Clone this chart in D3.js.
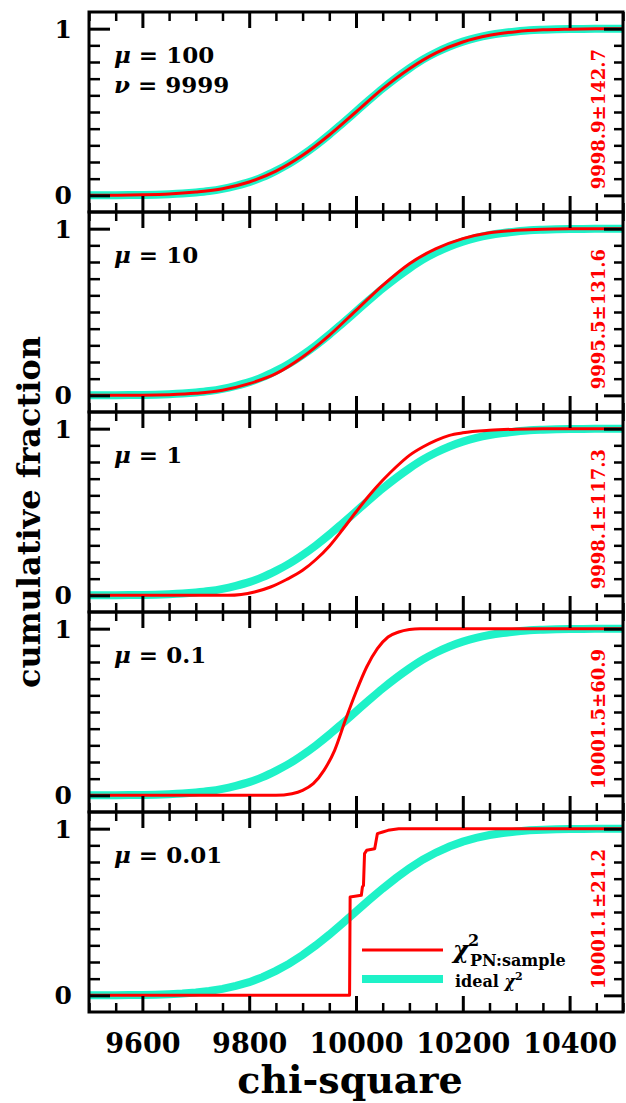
<!DOCTYPE html>
<html><head><meta charset="utf-8">
<script src="https://cdn.jsdelivr.net/npm/d3@7"></script>
<style>body{margin:0;background:#fff}svg text{font-family:"DejaVu Serif",serif;font-weight:bold}</style>
</head><body>
<svg id="c" width="626" height="1103"></svg>
<script>
// ---- data ----
const xTickLabels = [9600, 9800, 10000, 10200, 10400];
const yTickLabels = [0, 1];
const panelMu = ["100", "10", "1", "0.1", "0.01"];
const panelStats = ["9998.9±142.7", "9995.5±131.6", "9998.1±117.3", "10001.5±60.9", "10001.1±21.2"];

// ideal chi-square CDF (nu = 9999)
const idealX = [9500,9525,9550,9575,9600,9625,9650,9675,9700,9725,9750,9775,9800,9825,9850,9875,9900,9925,9950,9975,10000,10025,10050,10075,10100,10125,10150,10175,10200,10225,10250,10275,10300,10325,10350,10375,10400,10425,10450,10475,10500];
const idealY = [0.0002,0.0004,0.0007,0.0013,0.0024,0.004,0.0068,0.011,0.0174,0.026,0.039,0.057,0.079,0.109,0.147,0.19,0.242,0.3,0.364,0.433,0.503,0.573,0.641,0.704,0.762,0.814,0.857,0.893,0.922,0.945,0.962,0.974,0.983,0.99,0.9935,0.996,0.9977,0.9987,0.9993,0.9996,0.9998];

// sample CDFs, one per panel
const sampleMu100 = [[9500,0.0003],[9550,0.001],[9600,0.003],[9650,0.008],[9700,0.02],[9750,0.04],[9800,0.08],[9850,0.145],[9900,0.24],[9950,0.362],[10000,0.5],[10050,0.64],[10100,0.76],[10150,0.855],[10200,0.92],[10250,0.96],[10300,0.982],[10350,0.993],[10400,0.997],[10450,0.999],[10500,1]];
const sampleMu10 = [[9500,0.0001],[9600,0.001],[9650,0.004],[9700,0.012],[9750,0.03],[9800,0.07],[9850,0.13],[9900,0.23],[9950,0.36],[10000,0.51],[10050,0.66],[10100,0.79],[10150,0.88],[10200,0.94],[10250,0.975],[10300,0.99],[10350,0.997],[10400,0.999],[10500,1]];
const sampleMu1 = [[9500,0],[9760,0],[9785,0.005],[9810,0.02],[9840,0.05],[9870,0.095],[9900,0.15],[9925,0.215],[9950,0.295],[9975,0.395],[10000,0.5],[10025,0.6],[10050,0.69],[10075,0.77],[10100,0.84],[10125,0.89],[10150,0.93],[10175,0.96],[10200,0.975],[10250,0.99],[10300,0.997],[10350,1],[10500,1]];
const sampleMu01 = [[9500,0],[9850,0],[9880,0.01],[9900,0.03],[9920,0.07],[9940,0.15],[9960,0.27],[9980,0.45],[10000,0.62],[10020,0.77],[10040,0.88],[10060,0.95],[10080,0.98],[10100,0.995],[10120,1],[10500,1]];
const sampleMu001 = [[9500,0],[9988,0],[9989,0.59],[10010,0.6],[10012,0.65],[10014,0.66],[10016,0.85],[10020,0.87],[10035,0.88],[10040,0.97],[10050,0.98],[10060,0.99],[10080,1],[10500,1]];
const samples = [sampleMu100, sampleMu10, sampleMu1, sampleMu01, sampleMu001];

// ---- layout ----
const svg = d3.select("#c");
const L = 89, R = 623, T = 12, PH = 200, NP = 5;
const RED = "#ff0000", CYAN = "#1ef2c8";
const x = d3.scaleLinear().domain([9500, 10500]).range([L, R]);
const xMinor = d3.range(9500, 10501, 50).filter(v => (v - 9600) % 200 !== 0);
const xMajor = d3.range(9600, 10401, 200);
const yMinor = d3.range(1, 10).map(i => i / 10);
const ideal = idealX.map((v, i) => [v, idealY[i]]);

function styleTicks(g, w) {
  g.select(".domain").remove();
  g.selectAll("line").attr("stroke", "#000").attr("stroke-width", w);
  g.selectAll("text").remove();
}

for (let p = 0; p < NP; p++) {
  const top = T + p * PH;
  const y = d3.scaleLinear().domain([-0.1, 1.1]).range([top + PH, top]);
  const g = svg.append("g");

  // curves
  const line = d3.line().x(d => x(d[0])).y(d => y(d[1]))
    .curve(p === 4 ? d3.curveLinear : d3.curveMonotoneX);
  g.append("path").datum(ideal).attr("d", line).attr("fill", "none")
    .attr("stroke", CYAN).attr("stroke-width", 8);
  g.append("path").datum(samples[p]).attr("d", line).attr("fill", "none")
    .attr("stroke", RED).attr("stroke-width", 3).attr("stroke-linejoin", "round");

  // ticks: x
  g.append("g").attr("transform", `translate(0,${top + PH})`)
    .call(d3.axisBottom(x).tickValues(xMinor).tickSize(-9)).call(s => styleTicks(s, 2.5));
  g.append("g").attr("transform", `translate(0,${top + PH})`)
    .call(d3.axisBottom(x).tickValues(xMajor).tickSize(-16)).call(s => styleTicks(s, 3));
  g.append("g").attr("transform", `translate(0,${top})`)
    .call(d3.axisTop(x).tickValues(xMinor).tickSize(-9)).call(s => styleTicks(s, 2.5));
  g.append("g").attr("transform", `translate(0,${top})`)
    .call(d3.axisTop(x).tickValues(xMajor).tickSize(-16)).call(s => styleTicks(s, 3));
  // ticks: y
  g.append("g").attr("transform", `translate(${L},0)`)
    .call(d3.axisLeft(y).tickValues(yMinor).tickSize(-11)).call(s => styleTicks(s, 2.5));
  g.append("g").attr("transform", `translate(${L},0)`)
    .call(d3.axisLeft(y).tickValues(yTickLabels).tickSize(-21)).call(s => styleTicks(s, 3));
  g.append("g").attr("transform", `translate(${R},0)`)
    .call(d3.axisRight(y).tickValues(yMinor).tickSize(-9)).call(s => styleTicks(s, 2.5));
  g.append("g").attr("transform", `translate(${R},0)`)
    .call(d3.axisRight(y).tickValues(yTickLabels).tickSize(-19)).call(s => styleTicks(s, 3));

  // frame
  g.append("rect").attr("x", L).attr("y", top).attr("width", R - L).attr("height", PH)
    .attr("fill", "none").attr("stroke", "#000").attr("stroke-width", 3);

  // y tick labels
  g.selectAll(".yl").data(yTickLabels).enter().append("text")
    .attr("x", 72).attr("y", d => y(d)).attr("dy", "0.36em")
    .attr("text-anchor", "end").attr("font-size", 25).text(d => d);

  // mu label
  const t = g.append("text").attr("x", 114).attr("y", top + 51).attr("font-size", 23);
  t.append("tspan").attr("font-style", "italic").text("μ");
  t.append("tspan").text(" = " + panelMu[p]);
  if (p === 0) {
    const t2 = g.append("text").attr("x", 114).attr("y", top + 81).attr("font-size", 23);
    t2.append("tspan").attr("font-style", "italic").text("ν");
    t2.append("tspan").text(" = 9999");
  }

  // stats label
  g.append("text").attr("transform", `translate(605,${y(0) - 6}) rotate(-90)`)
    .attr("fill", RED).attr("font-size", 18).text(panelStats[p]);
}

// x tick labels
const bottom = T + NP * PH;
const xa = svg.append("g").attr("transform", `translate(0,${bottom})`)
  .call(d3.axisBottom(x).tickValues(xTickLabels).tickSize(0).tickPadding(22).tickFormat(d3.format("d")));
xa.select(".domain").remove();
xa.selectAll("text").attr("font-family", "DejaVu Serif").attr("font-weight", "bold")
  .attr("font-size", 27).attr("fill", "#000");

// axis titles
svg.append("text").attr("x", (L + R) / 2 - 6).attr("y", 1093).attr("text-anchor", "middle")
  .attr("font-size", 38).text("chi-square");
svg.append("text").attr("transform", `translate(40,${T + NP * PH / 2}) rotate(-90)`)
  .attr("text-anchor", "middle").attr("font-size", 32).text("cumulative fraction");

// legend (bottom panel)
const ly = T + 4 * PH;
svg.append("line").attr("x1", 362).attr("x2", 443).attr("y1", ly + 138).attr("y2", ly + 138)
  .attr("stroke", RED).attr("stroke-width", 3);
svg.append("line").attr("x1", 362).attr("x2", 443).attr("y1", ly + 167).attr("y2", ly + 167)
  .attr("stroke", CYAN).attr("stroke-width", 8);
svg.append("text").attr("x", 453).attr("y", ly + 146).attr("font-size", 24).attr("font-style", "italic").text("χ");
svg.append("text").attr("x", 468).attr("y", ly + 134).attr("font-size", 16).text("2");
svg.append("text").attr("x", 470).attr("y", ly + 154).attr("font-size", 16).text("PN:sample");
const lt = svg.append("text").attr("x", 455).attr("y", ly + 175).attr("font-size", 16);
lt.append("tspan").text("ideal ");
lt.append("tspan").attr("font-style", "italic").text("χ");
lt.append("tspan").attr("font-size", 11).attr("dy", -7).text("2");
</script>
</body></html>
